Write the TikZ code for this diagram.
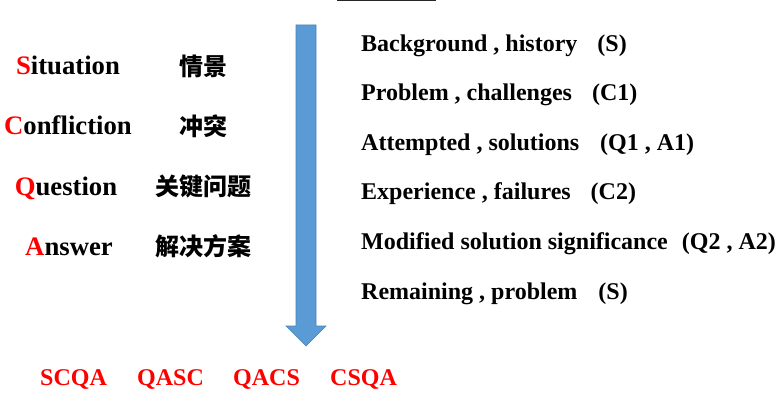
\documentclass[tikz,border=0pt]{standalone}
\usepackage{fontspec}
\setmainfont{Liberation Serif}
\newfontfamily\cjk{Noto Sans CJK SC}
\definecolor{arrowfill}{HTML}{5B9BD5}
\definecolor{arrowline}{HTML}{4A82B8}
\begin{document}
\begin{tikzpicture}[x=1pt,y=-1pt,
  bigtxt/.style={font=\bfseries\fontsize{26.7}{32}\selectfont, inner sep=0pt, anchor=base},
  cjktxt/.style={font=\cjk\bfseries\fontsize{24}{28}\selectfont, inner sep=0pt, anchor=base},
  rowtxt/.style={font=\bfseries\fontsize{24}{28}\selectfont, inner sep=0pt, anchor=base west},
  combo/.style={font=\bfseries\fontsize{24}{28}\selectfont, text=red, inner sep=0pt, anchor=base west}]
\useasboundingbox (0,0) rectangle (781,406);
% top line
\draw[line width=1pt,black!85] (337,0.5) -- (436,0.5);
% arrow
\filldraw[fill=arrowfill,draw=arrowline,line width=0.6pt]
  (296,25) -- (316,25) -- (316,326) -- (326,326) -- (306,346) -- (286,326) -- (296,326) -- cycle;
% left column
\node[bigtxt] (s) at (68,75) {\textcolor{red}{S}ituation};
\node[bigtxt] (c) at (68,135) {\textcolor{red}{C}onfliction};
\node[bigtxt] (q) at (66,195) {\textcolor{red}{Q}uestion};
\node[bigtxt] (a) at (69,255) {\textcolor{red}{A}nswer};
\node[cjktxt] (s2) at (203,75.5) {情景};
\node[cjktxt] (c2) at (203,135.5) {冲突};
\node[cjktxt] (q2) at (203,195.5) {关键问题};
\node[cjktxt] (a2) at (203,255.5) {解决方案};
% right column
\node[rowtxt] (r1) at (361,51.5) {Background , history\hspace{20pt}(S)};
\node[rowtxt] (r2) at (361,101) {Problem , challenges\hspace{20pt}(C1)};
\node[rowtxt] (r3) at (361,150.5) {Attempted , solutions\hspace{21pt}(Q1 , A1)};
\node[rowtxt] (r4) at (361,200) {Experience , failures\hspace{20pt}(C2)};
\node[rowtxt] (r5) at (361,249.5) {Modified solution significance\hspace{14pt}(Q2 , A2)};
\node[rowtxt] (r6) at (361,299) {Remaining , problem\hspace{21pt}(S)};
% bottom combos
\node[combo] (b1) at (40,385) {SCQA};
\node[combo] (b2) at (137,385) {QASC};
\node[combo] (b3) at (233,385) {QACS};
\node[combo] (b4) at (330,385) {CSQA};
\end{tikzpicture}
\end{document}
